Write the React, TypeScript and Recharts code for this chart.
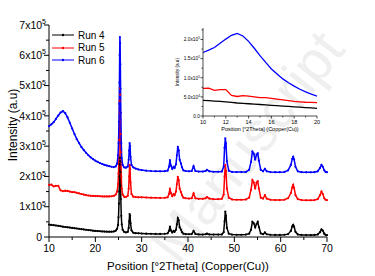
import { LineChart, Line, XAxis, YAxis, Legend } from "recharts";

// 2θ positions (degrees), denser around the reflections
const theta = [
  10, 10.5, 11, 11.5, 12, 12.5, 13, 13.5, 14, 14.5,
  15, 15.5, 16, 16.5, 17, 17.5, 18, 18.5, 19, 19.5,
  20, 20.5, 21, 21.5, 22, 22.5, 23, 23.5, 24, 24.4,
  24.7, 24.9, 25.0, 25.1, 25.15, 25.2, 25.25, 25.3, 25.35, 25.4,
  25.45, 25.5, 25.6, 25.7, 25.9, 26.2, 26.6, 27.0, 27.2, 27.3,
  27.4, 27.5, 27.6, 27.8, 28.2, 28.7, 29.3, 30, 31, 32,
  33, 34, 35, 35.6, 35.9, 36.1, 36.3, 36.6, 36.9, 37.1,
  37.4, 37.6, 37.8, 38.0, 38.2, 38.5, 38.7, 39.0, 39.5, 40.2,
  40.8, 41.2, 41.6, 42.3, 43.2, 43.8, 44.1, 44.6, 45.5, 46.5,
  47.3, 47.7, 47.9, 48.05, 48.2, 48.4, 48.8, 49.5, 50.5, 51.5,
  52.5, 53.2, 53.6, 53.9, 54.2, 54.5, 54.8, 55.05, 55.3, 55.7,
  56.2, 56.6, 57.0, 57.8, 58.8, 59.8, 60.8, 61.6, 62.2, 62.5,
  62.7, 62.9, 63.2, 63.7, 64.5, 65.5, 66.5, 67.3, 68.0, 68.5,
  68.8, 69.1, 69.4, 69.7, 70,
];

// raw intensities (counts)
const run4 = [
  41000, 40000, 39000, 38000, 37000, 35500, 34000, 33000, 32000, 31000,
  30000, 29000, 28000, 27000, 26000, 25000, 24000, 23000, 22000, 21000,
  20000, 19500, 19000, 18500, 18000, 17500, 17500, 17500, 18500, 21000,
  27000, 40000, 65000, 110000, 150000, 200000, 240000, 262000, 250000, 215000,
  170000, 125000, 70000, 42000, 24000, 17000, 15000, 17000, 30000, 52000,
  76000, 70000, 45000, 22000, 14000, 12500, 12000, 11500, 11000, 10500,
  10000, 10000, 10500, 12000, 20000, 34000, 22000, 15000, 20000, 17000,
  24000, 42000, 62000, 55000, 32000, 24000, 16000, 11000, 9500, 9000,
  9500, 20000, 10000, 8500, 8000, 9000, 11000, 8500, 8000, 8000,
  8500, 16000, 52000, 84000, 70000, 30000, 11000, 8000, 7500, 7500,
  8000, 11000, 24000, 50000, 45000, 32000, 43000, 50000, 33000, 12000,
  9000, 15000, 9000, 7500, 7000, 7000, 7500, 9500, 20000, 35000,
  40000, 34000, 17000, 8500, 7000, 6500, 6500, 7000, 8500, 16000,
  25000, 21000, 11000, 7000, 6000,
];

const run5 = [
  72000, 73000, 67000, 69000, 69000, 54000, 51000, 53000, 52000, 50000,
  48000, 48000, 46000, 44000, 42000, 40000, 38000, 37000, 36000, 35500,
  35000, 35000, 34500, 34000, 34000, 34000, 34000, 34500, 36000, 40000,
  50000, 75000, 110000, 170000, 220000, 280000, 350000, 390000, 370000, 310000,
  240000, 180000, 100000, 60000, 40000, 33000, 32000, 36000, 60000, 100000,
  138000, 125000, 80000, 42000, 33000, 32000, 31000, 31000, 30500, 30000,
  29500, 29000, 29500, 31000, 42000, 60000, 45000, 35000, 42000, 38000,
  50000, 75000, 99000, 88000, 60000, 48000, 38000, 30000, 28000, 27000,
  28000, 44000, 28000, 26000, 26000, 28000, 32000, 27000, 25000, 25000,
  26000, 40000, 100000, 138000, 118000, 60000, 30000, 24000, 23000, 23000,
  24000, 30000, 56000, 88000, 80000, 60000, 80000, 84000, 60000, 30000,
  27000, 38000, 27000, 23000, 22000, 22000, 23000, 28000, 45000, 64000,
  72000, 62000, 38000, 25000, 22000, 21000, 21000, 22000, 25000, 38000,
  50000, 42000, 28000, 23000, 22000,
];

const run6 = [
  166000, 172000, 179000, 190000, 201000, 211000, 216000, 209000, 195000, 177000,
  158000, 140000, 123000, 110000, 97000, 87000, 78000, 70000, 63000, 57000,
  52000, 48000, 44000, 41000, 38000, 36000, 34000, 32000, 31000, 33000,
  42000, 70000, 110000, 180000, 240000, 310000, 400000, 460000, 440000, 370000,
  290000, 210000, 110000, 60000, 38000, 30000, 29000, 33000, 55000, 85000,
  110000, 100000, 65000, 38000, 30000, 26000, 23000, 21000, 19000, 18000,
  17500, 17000, 17500, 19000, 32000, 54000, 36000, 25000, 32000, 28000,
  40000, 70000, 98000, 86000, 55000, 42000, 30000, 20000, 18000, 17000,
  18000, 34000, 18000, 16000, 16000, 18000, 22000, 17000, 15500, 15500,
  16500, 32000, 95000, 126000, 108000, 50000, 19000, 15000, 14500, 14500,
  15000, 22000, 48000, 82000, 75000, 55000, 72000, 76000, 52000, 22000,
  17000, 25000, 17000, 14500, 14000, 14000, 15000, 20000, 38000, 58000,
  65000, 56000, 32000, 17000, 14000, 13500, 13500, 14000, 17000, 28000,
  38000, 32000, 20000, 15000, 14000,
];

// vertical stacking used in the main panel
const offsets = { run4: 0, run5: 100000, run6: 200000 };

const series = [
  { key: "run4", name: "Run 4", color: "#000000", values: run4 },
  { key: "run5", name: "Run 5", color: "#ff0000", values: run5 },
  { key: "run6", name: "Run 6", color: "#0000ff", values: run6 },
];

const mainXTicks = [10, 15, 20, 25, 30, 35, 40, 45, 50, 55, 60, 65, 70];
const mainYTicks = [0, 50000, 100000, 150000, 200000, 250000, 300000, 350000, 400000, 450000, 500000, 550000, 600000, 650000, 700000];
const insetXTicks = [10, 11, 12, 13, 14, 15, 16, 17, 18, 19, 20];
const insetYTicks = [0, 25000, 50000, 75000, 100000, 125000, 150000, 175000, 200000, 225000];

const xTitle = "Position [°2Theta] (Copper(Cu))";
const yTitle = "Intensity (a.u)";
const watermark = "Manuscript";

const FONT = "'Liberation Sans', Arial, Helvetica, sans-serif";

const mainRows = theta.map((t, i) => {
  const row: any = { theta: t };
  series.forEach((s) => {
    row[s.key] = s.values[i] + offsets[s.key as keyof typeof offsets];
  });
  return row;
});

const insetRows = theta
  .map((t, i) => ({ theta: t, run4: run4[i], run5: run5[i], run6: run6[i] }))
  .filter((r) => r.theta <= 20);

const MainXTick = ({ x, y, payload }: any) => {
  const major = payload.value % 10 === 0;
  return (
    <g>
      <line x1={x} x2={x} y1={y} y2={y + (major ? 5 : 3)} stroke="#000" />
      {major && (
        <text x={x} y={y + 15} textAnchor="middle" fontSize={10.5} fontFamily={FONT} fill="#000">
          {payload.value}
        </text>
      )}
    </g>
  );
};

const MainYTick = ({ x, y, payload }: any) => {
  const v = payload.value;
  const major = v % 100000 === 0;
  return (
    <g>
      <line x1={x} x2={x - (major ? 5 : 3)} y1={y} y2={y} stroke="#000" />
      {major &&
        (v === 0 ? (
          <text x={x - 7} y={y + 3.7} textAnchor="end" fontSize={10.5} fontFamily={FONT} fill="#000">
            0
          </text>
        ) : (
          <text x={x - 3} y={y + 3.7} textAnchor="end" fontSize={10.5} fontFamily={FONT} fill="#000">
            {v / 100000}x10
            <tspan dy={-4.5} fontSize={7}>5</tspan>
          </text>
        ))}
    </g>
  );
};

const InsetXTick = ({ x, y, payload }: any) => {
  const major = payload.value % 2 === 0;
  return (
    <g>
      <line x1={x} x2={x} y1={y} y2={y + (major ? 2.5 : 1.5)} stroke="#000" strokeWidth={0.7} />
      {major && (
        <text x={x} y={y + 8} textAnchor="middle" fontSize={5.5} fontFamily={FONT} fill="#000">
          {payload.value}
        </text>
      )}
    </g>
  );
};

const InsetYTick = ({ x, y, payload }: any) => {
  const v = payload.value;
  const major = v % 50000 === 0;
  const exp = v >= 100000 ? 5 : 4;
  const mant = (v / Math.pow(10, exp)).toFixed(1);
  return (
    <g>
      <line x1={x} x2={x - (major ? 2.5 : 1.5)} y1={y} y2={y} stroke="#000" strokeWidth={0.7} />
      {major && (
        <text x={x - 3} y={y + 1.8} textAnchor="end" fontSize={4.8} fontFamily={FONT} fill="#000">
          {v === 0 ? "0.0" : `${mant}x10`}
          {v !== 0 && <tspan dy={-2} fontSize={3.3}>{exp}</tspan>}
        </text>
      )}
    </g>
  );
};

const LegendBox = ({ payload }: any) => (
  <div style={{ fontFamily: FONT, fontSize: 10, color: "#000" }}>
    {(payload || []).map((p: any) => (
      <div key={p.value} style={{ display: "flex", alignItems: "center", height: 12.5 }}>
        <svg width={24} height={8}>
          <line x1={1} x2={23} y1={4} y2={4} stroke={p.color} strokeWidth={1} />
          <circle cx={12} cy={4} r={1.2} fill={p.color} />
        </svg>
        <span style={{ marginLeft: 3 }}>{p.value}</span>
      </div>
    ))}
  </div>
);

export default function App() {
  return (
    <div style={{ position: "absolute", left: 0, top: 0, width: 375, height: 276, background: "#fff", overflow: "hidden" }}>
      {/* faint diagonal watermark behind the plot */}
      <svg width={375} height={276} style={{ position: "absolute", left: 0, top: 0 }}>
        <text
          x={178}
          y={266}
          transform="rotate(-52 178 266)"
          fontSize={56}
          fontFamily={FONT}
          fill="#efefef"
        >
          {watermark}
        </text>
      </svg>

      <div style={{ position: "absolute", left: 0, top: 0 }}>
        <LineChart width={375} height={276} data={mainRows} margin={{ top: 25, right: 48, left: 0, bottom: 0 }}>
          <XAxis
            dataKey="theta"
            type="number"
            domain={[10, 70]}
            ticks={mainXTicks}
            interval={0}
            height={39}
            tickSize={0}
            tickMargin={0}
            tickLine={false}
            tick={<MainXTick />}
            axisLine={{ stroke: "#000" }}
            label={({ viewBox }: any) => (
              <text
                x={viewBox.x + viewBox.width / 2}
                y={270}
                textAnchor="middle"
                fontSize={11.5}
                fontFamily={FONT}
                fill="#000"
              >
                {xTitle}
              </text>
            )}
          />
          <XAxis xAxisId="top" orientation="top" dataKey="theta" type="number" domain={[10, 70]} height={0} tick={false} tickLine={false} axisLine={{ stroke: "#000" }} />
          <YAxis
            type="number"
            domain={[0, 700000]}
            ticks={mainYTicks}
            interval={0}
            width={49}
            tickSize={0}
            tickMargin={0}
            tickLine={false}
            tick={<MainYTick />}
            axisLine={{ stroke: "#000" }}
            label={({ viewBox }: any) => {
              const cy = viewBox.y + viewBox.height / 2 - 6;
              return (
                <text x={17} y={cy} textAnchor="middle" transform={`rotate(-90 17 ${cy})`} fontSize={12} fontFamily={FONT} fill="#000">
                  {yTitle}
                </text>
              );
            }}
          />
          <YAxis yAxisId="right" orientation="right" domain={[0, 700000]} width={0} tick={false} tickLine={false} axisLine={{ stroke: "#000" }} />
          <Legend
            layout="vertical"
            align="center"
            verticalAlign="middle"
            wrapperStyle={{ left: 51, top: 29, width: 70, height: 38, right: "auto", bottom: "auto" }}
            content={<LegendBox />}
          />
          {series.map((s) => (
            <Line
              key={s.key}
              type="linear"
              dataKey={s.key}
              name={s.name}
              stroke={s.color}
              strokeWidth={1.5}
              dot={{ r: 1.1, fill: s.color, stroke: "none" }}
              activeDot={false}
              isAnimationActive={false}
            />
          ))}
        </LineChart>
      </div>

      <div style={{ position: "absolute", left: 165, top: 20 }}>
        <LineChart width={160} height={118} data={insetRows} margin={{ top: 8, right: 8, left: 0, bottom: 0 }}>
          <XAxis
            dataKey="theta"
            type="number"
            domain={[10, 20]}
            ticks={insetXTicks}
            interval={0}
            height={22}
            tickSize={0}
            tickMargin={0}
            tickLine={false}
            tick={<InsetXTick />}
            axisLine={{ stroke: "#000", strokeWidth: 0.7 }}
            label={({ viewBox }: any) => (
              <text x={viewBox.x + viewBox.width / 2} y={viewBox.y + 14.5} textAnchor="middle" fontSize={5.5} fontFamily={FONT} fill="#000">
                {xTitle}
              </text>
            )}
          />
          <XAxis xAxisId="top" orientation="top" dataKey="theta" type="number" domain={[10, 20]} height={0} tick={false} tickLine={false} axisLine={{ stroke: "#000", strokeWidth: 0.7 }} />
          <YAxis
            type="number"
            domain={[0, 230000]}
            ticks={insetYTicks}
            interval={0}
            width={38}
            tickSize={0}
            tickMargin={0}
            tickLine={false}
            tick={<InsetYTick />}
            axisLine={{ stroke: "#000", strokeWidth: 0.7 }}
            label={({ viewBox }: any) => {
              const cy = viewBox.y + viewBox.height / 2;
              return (
                <text x={14} y={cy} textAnchor="middle" transform={`rotate(-90 14 ${cy})`} fontSize={4.6} fontFamily={FONT} fill="#000">
                  {yTitle}
                </text>
              );
            }}
          />
          <YAxis yAxisId="right" orientation="right" domain={[0, 230000]} width={0} tick={false} tickLine={false} axisLine={{ stroke: "#000", strokeWidth: 0.7 }} />
          {series.map((s) => (
            <Line
              key={s.key}
              type="linear"
              dataKey={s.key}
              stroke={s.color}
              strokeWidth={1.3}
              dot={false}
              activeDot={false}
              isAnimationActive={false}
            />
          ))}
        </LineChart>
      </div>
    </div>
  );
}
